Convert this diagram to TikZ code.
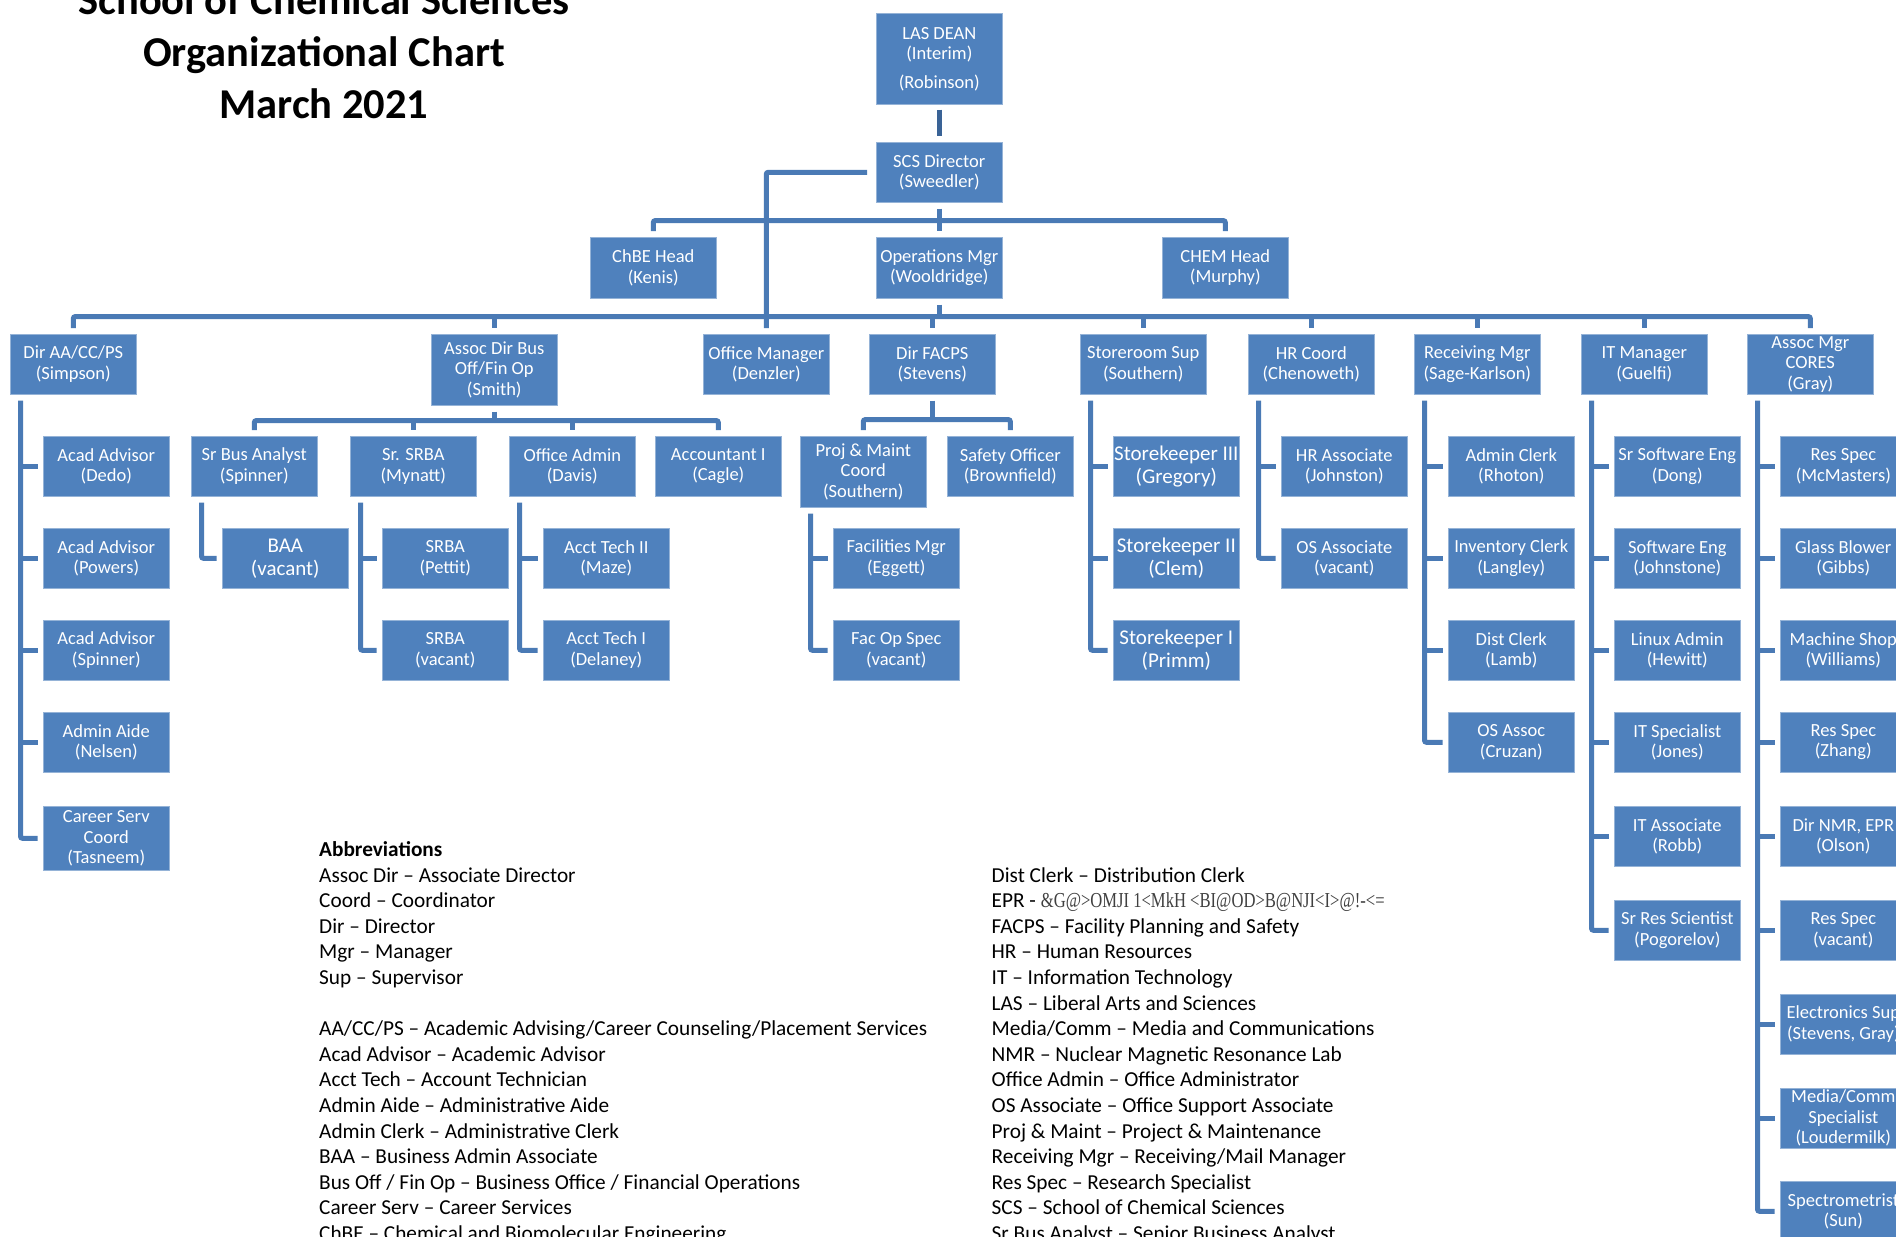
\documentclass[tikz,border=0pt]{standalone}
\usepackage{fontspec}
\usepackage{graphicx}
\setmainfont{Carlito}
\newfontfamily\garbfont{Liberation Serif}
\usetikzlibrary{calc}
\definecolor{boxblue}{HTML}{4F81BD}
\definecolor{lineblue}{HTML}{4A7AB5}
\definecolor{linedark}{HTML}{3A6396}
\tikzset{
 box/.style={rectangle, fill=boxblue, draw=boxblue!60!white, line width=0.6pt, text=white,
   minimum width=126pt, minimum height=60pt, inner sep=0pt, align=center, anchor=north west,
   font=\fontsize{18.5}{20.5}\selectfont},
 bigbox/.style={box, font=\fontsize{21}{23}\selectfont},
 conn/.style={draw=lineblue, line width=5pt, rounded corners=2pt},
 conndark/.style={conn, draw=linedark},
 abbr/.style={anchor=base west, inner sep=0pt, font=\fontsize{21.3}{25.6}\selectfont},
}
\begin{document}
\begin{tikzpicture}[x=1pt,y=-1pt]
\useasboundingbox (0,0) rectangle (1896,1237);
\fill[white] (0,0) rectangle (1896,1237);

% title
\node[font=\fontsize{42.5}{52}\bfseries\selectfont, align=center, inner sep=0pt] (title) at (324,52)
  {School of Chemical Sciences\\Organizational Chart\\March 2021};

% top
\node[box, minimum height=91pt] (las) at (876,13) {LAS DEAN\\(Interim)\\[8pt](Robinson)};
\node[box] (scs) at (876,142) {SCS Director\\(Sweedler)};
\node[box, minimum height=61pt] (chbe) at (590,237) {ChBE Head\\(Kenis)};
\node[box, minimum height=61pt] (ops) at (876,237) {Operations Mgr\\(Wooldridge)};
\node[box, minimum height=61pt] (chem) at (1162,237) {CHEM Head\\(Murphy)};

% level 2
\node[box] (diraa) at (10,334) {Dir AA/CC/PS\\(Simpson)};
\node[box, minimum height=71pt] (assocdir) at (431,334) {Assoc Dir Bus\\Off/Fin Op\\(Smith)};
\node[box] (offmgr) at (703,334) {Office Manager\\(Denzler)};
\node[box] (facps) at (869,334) {Dir FACPS\\(Stevens)};
\node[box] (storeroom) at (1080,334) {Storeroom Sup\\(Southern)};
\node[box] (hrc) at (1248,334) {HR Coord\\(Chenoweth)};
\node[box] (recv) at (1414,334) {Receiving Mgr\\(Sage-Karlson)};
\node[box] (itm) at (1581,334) {IT Manager\\(Guelfi)};
\node[box] (cores) at (1747,334) {Assoc Mgr\\CORES\\(Gray)};

% Dir AA children
\node[box] (aa1) at (43,436) {Acad Advisor\\(Dedo)};
\node[box] (aa2) at (43,528) {Acad Advisor\\(Powers)};
\node[box] (aa3) at (43,620) {Acad Advisor\\(Spinner)};
\node[box] (aa4) at (43,712) {Admin Aide\\(Nelsen)};
\node[box, minimum height=64pt] (aa5) at (43,806) {Career Serv\\Coord\\(Tasneem)};

% Assoc Dir children
\node[box] (sba) at (191,436) {Sr Bus Analyst\\(Spinner)};
\node[box] (srba) at (350,436) {Sr. SRBA\\(Mynatt)};
\node[box] (oadm) at (509,436) {Office Admin\\(Davis)};
\node[box] (acc) at (655,436) {Accountant I\\(Cagle)};
\node[bigbox] (baa) at (222,528) {BAA\\(vacant)};
\node[box] (srba1) at (382,528) {SRBA\\(Pettit)};
\node[box] (srba2) at (382,620) {SRBA\\(vacant)};
\node[box] (at2) at (543,528) {Acct Tech II\\(Maze)};
\node[box] (at1) at (543,620) {Acct Tech I\\(Delaney)};

% FACPS children
\node[box, minimum height=71pt] (proj) at (800,436) {Proj \& Maint\\Coord\\(Southern)};
\node[box] (safety) at (947,436) {Safety Officer\\(Brownfield)};
\node[box] (fmgr) at (833,528) {Facilities Mgr\\(Eggett)};
\node[box] (fos) at (833,620) {Fac Op Spec\\(vacant)};

% Storeroom
\node[bigbox] (sk3) at (1113,436) {Storekeeper III\\(Gregory)};
\node[bigbox] (sk2) at (1113,528) {Storekeeper II\\(Clem)};
\node[bigbox] (sk1) at (1113,620) {Storekeeper I\\(Primm)};

% HR
\node[box] (hra) at (1281,436) {HR Associate\\(Johnston)};
\node[box] (osa) at (1281,528) {OS Associate\\(vacant)};

% Receiving
\node[box] (rc1) at (1448,436) {Admin Clerk\\(Rhoton)};
\node[box] (rc2) at (1448,528) {Inventory Clerk\\(Langley)};
\node[box] (rc3) at (1448,620) {Dist Clerk\\(Lamb)};
\node[box] (rc4) at (1448,712) {OS Assoc\\(Cruzan)};

% IT
\node[box] (it1) at (1614,436) {Sr Software Eng\\(Dong)};
\node[box] (it2) at (1614,528) {Software Eng\\(Johnstone)};
\node[box] (it3) at (1614,620) {Linux Admin\\(Hewitt)};
\node[box] (it4) at (1614,712) {IT Specialist\\(Jones)};
\node[box] (it5) at (1614,806) {IT Associate\\(Robb)};
\node[box] (it6) at (1614,900) {Sr Res Scientist\\(Pogorelov)};

% CORES
\node[box] (co1) at (1780,436) {Res Spec\\(McMasters)};
\node[box] (co2) at (1780,528) {Glass Blower\\(Gibbs)};
\node[box] (co3) at (1780,620) {Machine Shop\\(Williams)};
\node[box] (co4) at (1780,712) {Res Spec\\(Zhang)};
\node[box] (co5) at (1780,806) {Dir NMR, EPR\\(Olson)};
\node[box] (co6) at (1780,900) {Res Spec\\(vacant)};
\node[box] (co7) at (1780,994) {Electronics Sup\\(Stevens, Gray)};
\node[box] (co8) at (1780,1088) {Media/Comm\\Specialist\\(Loudermilk)};
\node[box] (co9) at (1780,1181) {Spectrometrist\\(Sun)};

% ---- connectors: top
\draw[conndark] ([yshift=-5pt]las.south) -- ([yshift=6pt]scs.north);
\draw[conn] ([xshift=-9pt]scs.west) -| ([yshift=6pt]offmgr.north);
\coordinate (b1) at ([yshift=-18pt]scs.south);
\draw[conn] ([yshift=-6pt]scs.south) -- ([yshift=6pt]ops.north);
\draw[conn] ([yshift=6pt]chbe.north) |- (b1) -| ([yshift=6pt]chem.north);
\coordinate (b2) at ([yshift=-18pt]ops.south);
\draw[conn] ([yshift=-6pt]ops.south) -- (b2);
\draw[conn] ([yshift=6pt]diraa.north) |- (b2) -| ([yshift=6pt]cores.north);
\foreach \c in {assocdir,offmgr,facps,storeroom,hrc,recv,itm}
  \draw[conn] (\c.north |- b2) -- ([yshift=6pt]\c.north);

% Assoc Dir bus
\coordinate (b3) at ([yshift=-15pt]assocdir.south);
\draw[conn] ([yshift=-6pt]assocdir.south) -- (b3);
\draw[conn] ([yshift=6pt]sba.north) |- (b3) -| ([yshift=6pt]acc.north);
\foreach \c in {srba,oadm}
  \draw[conn] (\c.north |- b3) -- ([yshift=6pt]\c.north);

% FACPS bus
\coordinate (b4) at ([yshift=-25pt]facps.south);
\draw[conn] ([yshift=-6pt]facps.south) -- (b4);
\draw[conn] ([yshift=6pt]proj.north) |- (b4) -| ([yshift=6pt]safety.north);

% combs
\foreach \p/\last/\others in {diraa/aa5/{aa1,aa2,aa3,aa4}, sba/baa/{}, srba/srba2/{srba1},
    oadm/at1/{at2}, proj/fos/{fmgr}, storeroom/sk1/{sk3,sk2}, hrc/osa/{hra},
    recv/rc4/{rc1,rc2,rc3}, itm/it6/{it1,it2,it3,it4,it5},
    cores/co9/{co1,co2,co3,co4,co5,co6,co7,co8}} {
  \coordinate (t\p) at ([xshift=10.5pt,yshift=-6pt]\p.south west);
  \draw[conn] (t\p) |- ([xshift=-5.5pt]\last.west);
  \foreach \c in \others
    \draw[conn] (t\p |- \c.west) -- ([xshift=-5.5pt]\c.west);
}

% abbreviations
\foreach \n/\t in {0/{\textbf{Abbreviations}}, 1/{Assoc Dir – Associate Director},
  2/{Coord – Coordinator}, 3/{Dir – Director}, 4/{Mgr – Manager}, 5/{Sup – Supervisor},
  7/{AA/CC/PS – Academic Advising/Career Counseling/Placement Services},
  8/{Acad Advisor – Academic Advisor}, 9/{Acct Tech – Account Technician},
  10/{Admin Aide – Administrative Aide}, 11/{Admin Clerk – Administrative Clerk},
  12/{BAA – Business Admin Associate},
  13/{Bus Off / Fin Op – Business Office / Financial Operations},
  14/{Career Serv – Career Services}, 15/{ChBE – Chemical and Biomolecular Engineering}}
  \node[abbr] (la\n) at (319,{856.5+25.6*\n}) {\t};

\foreach \n/\t in {1/{Dist Clerk – Distribution Clerk},
  2/{EPR - {\garbfont\color{black!75}\scalebox{0.78}[1]{\&G@>OMJI 1<MkH <BI@OD>B@NJI<I>@!-<=}}},
  3/{FACPS – Facility Planning and Safety}, 4/{HR – Human Resources},
  5/{IT – Information Technology}, 6/{LAS – Liberal Arts and Sciences},
  7/{Media/Comm – Media and Communications}, 8/{NMR – Nuclear Magnetic Resonance Lab},
  9/{Office Admin – Office Administrator}, 10/{OS Associate – Office Support Associate},
  11/{Proj \& Maint – Project \& Maintenance}, 12/{Receiving Mgr – Receiving/Mail Manager},
  13/{Res Spec – Research Specialist}, 14/{SCS – School of Chemical Sciences},
  15/{Sr Bus Analyst – Senior Business Analyst}}
  \node[abbr] (ra\n) at (991.5,{856.5+25.6*\n}) {\t};
\end{tikzpicture}
\end{document}
